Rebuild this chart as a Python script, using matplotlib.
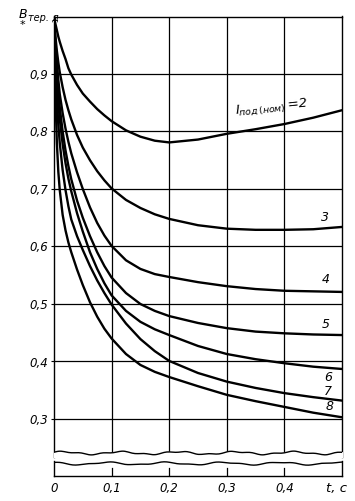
import numpy as np
import matplotlib.pyplot as plt

# time, s
t = [0, 0.0025, 0.005, 0.0075, 0.01, 0.015, 0.02, 0.025, 0.03, 0.04, 0.05, 0.0625, 0.075,
     0.0875, 0.1, 0.125, 0.15, 0.175, 0.2, 0.25, 0.3, 0.35, 0.4, 0.45, 0.5]

# B*тер.д for I под(ном) = 2 ... 8
b2 = [1.0, 0.987, 0.976, 0.965, 0.956, 0.94, 0.926, 0.91, 0.899, 0.881, 0.866, 0.852, 0.839,
      0.828, 0.818, 0.802, 0.791, 0.784, 0.781, 0.786, 0.796, 0.804, 0.813, 0.824, 0.837]
b3 = [1.0, 0.965, 0.94, 0.92, 0.903, 0.877, 0.855, 0.837, 0.821, 0.794, 0.772, 0.75, 0.731,
      0.715, 0.701, 0.681, 0.667, 0.656, 0.648, 0.637, 0.631, 0.629, 0.629, 0.630, 0.634]
b4 = [1.0, 0.955, 0.92, 0.89, 0.865, 0.832, 0.805, 0.782, 0.762, 0.729, 0.70, 0.668, 0.641,
      0.619, 0.601, 0.576, 0.561, 0.552, 0.547, 0.538, 0.531, 0.526, 0.523, 0.522, 0.521]
b5 = [1.0, 0.94, 0.90, 0.868, 0.842, 0.80, 0.767, 0.74, 0.717, 0.68, 0.65, 0.618, 0.59,
      0.566, 0.546, 0.519, 0.500, 0.488, 0.479, 0.467, 0.458, 0.452, 0.449, 0.447, 0.446]
b6 = [1.0, 0.93, 0.885, 0.85, 0.822, 0.778, 0.745, 0.718, 0.696, 0.658, 0.626, 0.59, 0.561,
      0.536, 0.515, 0.488, 0.469, 0.456, 0.446, 0.427, 0.413, 0.404, 0.397, 0.391, 0.387]
b7 = [1.0, 0.91, 0.855, 0.812, 0.78, 0.733, 0.698, 0.67, 0.647, 0.618, 0.594, 0.566, 0.541,
      0.519, 0.499, 0.466, 0.439, 0.418, 0.401, 0.38, 0.365, 0.354, 0.345, 0.338, 0.332]
b8 = [1.0, 0.86, 0.78, 0.73, 0.698, 0.655, 0.628, 0.607, 0.59, 0.56, 0.533, 0.503, 0.478,
      0.457, 0.44, 0.413, 0.394, 0.382, 0.373, 0.357, 0.342, 0.331, 0.321, 0.311, 0.303]

curves = [b2, b3, b4, b5, b6, b7, b8]
curve_labels = ['3', '4', '5', '6', '7', '8']
label_pos = [(0.471, 0.650), (0.472, 0.542), (0.472, 0.465), (0.476, 0.373), (0.476, 0.347), (0.478, 0.321)]

x_ticks = [0, 0.1, 0.2, 0.3, 0.4]
x_ticklabels = ['0', '0,1', '0,2', '0,3', '0,4']
y_ticks = [0.3, 0.4, 0.5, 0.6, 0.7, 0.8, 0.9]
y_ticklabels = ['0,3', '0,4', '0,5', '0,6', '0,7', '0,8', '0,9']

W, H = 355, 501
fig = plt.figure(figsize=(W / 100, H / 100), dpi=100)

left = 54 / W
width = (342 - 54) / W
ytop_px = 16.5
ybot_px = 457
ax = fig.add_axes([left, 1 - ybot_px / H, width, (ybot_px - ytop_px) / H])
ymin = 1 - (ybot_px - ytop_px) / 575
ax.set_xlim(0, 0.5)
ax.set_ylim(ymin, 1.0)

lw_grid = 0.9
for xv in [0.1, 0.2, 0.3, 0.4]:
    ax.axvline(xv, color='black', lw=lw_grid, zorder=1)
for yv in y_ticks:
    ax.axhline(yv, color='black', lw=lw_grid, zorder=1)

for b in curves:
    ax.plot(t, b, color='black', lw=1.7, zorder=3, solid_capstyle='round', solid_joinstyle='round')

# wavy broken bottom edge
px = 1 / 575
xw = np.linspace(0, 0.5, 200)
wave = ymin + 4 * px + 1.3 * px * np.sin(xw / 0.1 * 2 * np.pi + 0.6) + 0.6 * px * np.sin(xw / 0.037 * 2 * np.pi)
ax.fill_between(xw, ymin, wave, color='white', zorder=4)
ax.plot(xw, wave, color='black', lw=1.0, zorder=5)

for s in ['top', 'left', 'right']:
    ax.spines[s].set_linewidth(1.0)
ax.spines['bottom'].set_visible(False)
ax.set_xticks([])
ax.set_yticks(y_ticks)
ax.set_yticklabels(y_ticklabels, fontsize=8.5, style='italic')
ax.tick_params(axis='y', length=2, width=0.8, pad=2)

for lab, (xl, yl) in zip(curve_labels, label_pos):
    ax.text(xl, yl, lab, fontsize=9, style='italic', ha='center', va='center', zorder=6)
ax.text(0.378, 0.842, r'$I_{под\,(ном)}\,$=2', fontsize=9.5, style='italic',
        ha='center', va='center', rotation=6, zorder=6)

# lower strip with the time axis
sb_top, sb_bot = 461, 476
ax2 = fig.add_axes([left, 1 - sb_bot / H, width, (sb_bot - sb_top) / H])
ax2.set_xlim(0, 0.5)
ax2.set_ylim(0, 1)
hpx = 1 / (sb_bot - sb_top)
wave2 = 1 - 2.5 * hpx + 1.2 * hpx * np.sin(xw / 0.1 * 2 * np.pi + 2.0) + 0.5 * hpx * np.sin(xw / 0.045 * 2 * np.pi)
ax2.plot(xw, wave2, color='black', lw=1.0)
for xv in [0.1, 0.2, 0.3, 0.4]:
    ax2.plot([xv, xv], [0, 0.55], color='black', lw=lw_grid)
ax2.spines['top'].set_visible(False)
for s in ['left', 'right', 'bottom']:
    ax2.spines[s].set_linewidth(1.0)
ax2.set_yticks([])
ax2.set_xticks(x_ticks + [0.49])
ax2.set_xticklabels(x_ticklabels + ['t, c'], fontsize=8.5, style='italic')
ax2.tick_params(axis='x', length=0, pad=4)
ax2.get_xticklabels()[-1].set_fontsize(9.5)

# y-axis label
fig.text(19 / W, 1 - 14 / H, 'B', fontsize=9, style='italic', ha='left', va='center')
fig.text(28 / W, 1 - 18 / H, 'тер. д', fontsize=7, style='italic', ha='left', va='center')
fig.text(20 / W, 1 - 25 / H, '*', fontsize=8, ha='left', va='center')

fig.savefig('out.png', dpi=100)
